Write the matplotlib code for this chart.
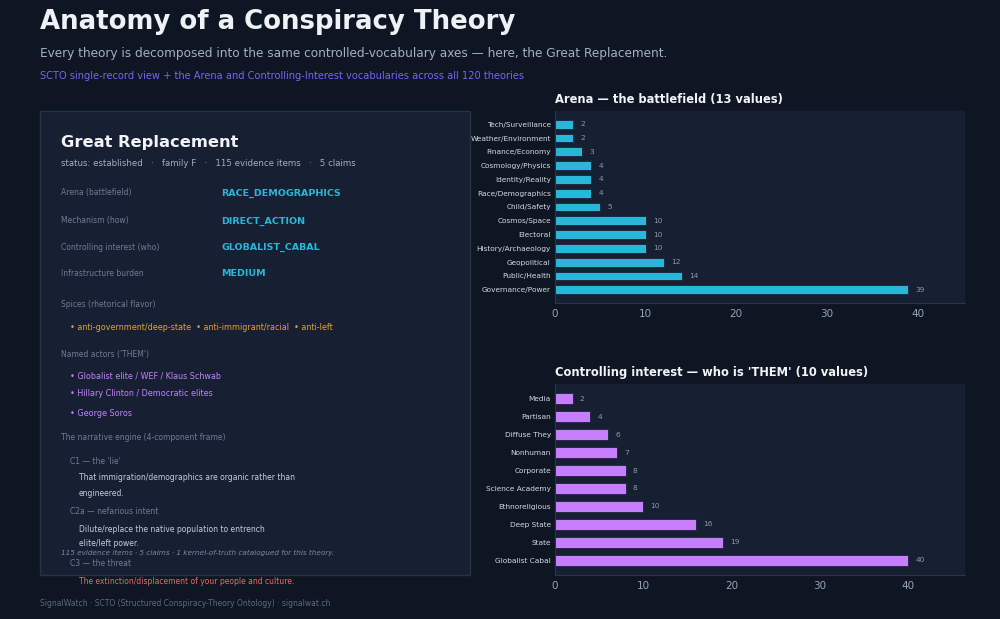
import matplotlib
matplotlib.use('Agg')
import matplotlib.pyplot as plt
from matplotlib.patches import Rectangle

# ---- data ----
arena_labels = ['Governance/Power', 'Public/Health', 'Geopolitical', 'History/Archaeology',
                'Electoral', 'Cosmos/Space', 'Child/Safety', 'Race/Demographics',
                'Identity/Reality', 'Cosmology/Physics', 'Finance/Economy',
                'Weather/Environment', 'Tech/Surveillance']
arena_counts = [39, 14, 12, 10, 10, 10, 5, 4, 4, 4, 3, 2, 2]

interest_labels = ['Globalist Cabal', 'State', 'Deep State', 'Ethnoreligious',
                   'Science Academy', 'Corporate', 'Nonhuman', 'Diffuse They',
                   'Partisan', 'Media']
interest_counts = [40, 19, 16, 10, 8, 8, 7, 6, 4, 2]

record_fields = ['Arena (battlefield)', 'Mechanism (how)', 'Controlling interest (who)',
                 'Infrastructure burden']
record_values = ['RACE_DEMOGRAPHICS', 'DIRECT_ACTION', 'GLOBALIST_CABAL', 'MEDIUM']
spices = ['anti-government/deep-state', 'anti-immigrant/racial', 'anti-left']
actors = ['Globalist elite / WEF / Klaus Schwab', 'Hillary Clinton / Democratic elites',
          'George Soros']

BG = '#0f1623'
PANEL = '#172033'
EDGE = '#263245'
CYAN = '#29b6d9'
VIOLET = '#c77dff'
MUTED = '#6f7c92'

W, H = 1000, 619
fig = plt.figure(figsize=(10, 6.19), dpi=100, facecolor=BG)


def px(x, y):
    return x / W, 1 - y / H


def txt(x, y, s, **kw):
    kw.setdefault('va', 'center')
    kw.setdefault('ha', 'left')
    fig.text(*px(x, y), s, **kw)


# header
txt(40, 22, 'Anatomy of a Conspiracy Theory', fontsize=18.7, fontweight='bold', color='#eef2f7')
txt(40, 54, 'Every theory is decomposed into the same controlled-vocabulary axes \u2014 here, the Great Replacement.',
    fontsize=8.7, color='#a3afc2')
txt(40, 76, 'SCTO single-record view + the Arena and Controlling-Interest vocabularies across all 120 theories',
    fontsize=7.1, color='#7467f0')

# left panel: single record card
fig.patches.append(Rectangle(px(40, 575), 430 / W, 464 / H, transform=fig.transFigure,
                             facecolor=PANEL, edgecolor=EDGE, linewidth=1, zorder=0))

txt(61, 142, 'Great Replacement', fontsize=11.7, fontweight='bold', color='#f1f5f9')
txt(61, 163, 'status: established   \u00b7   family F   \u00b7   115 evidence items   \u00b7   5 claims',
    fontsize=6.2, color='#a3afc2')

for y, f, v in zip([193, 221, 247, 274], record_fields, record_values):
    txt(61, y, f, fontsize=5.5, color=MUTED)
    txt(221, y, v, fontsize=6.8, fontweight='bold', color=CYAN)

txt(61, 305, 'Spices (rhetorical flavor)', fontsize=5.5, color=MUTED)
txt(70, 327, '  '.join('\u2022 ' + s for s in spices), fontsize=5.8, color='#e3a03a')

txt(61, 354, "Named actors ('THEM')", fontsize=5.5, color=MUTED)
for y, a in zip([376, 394, 413], actors):
    txt(70, y, '\u2022 ' + a, fontsize=5.8, color='#c084fc')

txt(61, 438, 'The narrative engine (4-component frame)', fontsize=5.5, color=MUTED)
txt(70, 461, "C1 \u2014 the 'lie'", fontsize=5.5, color=MUTED)
txt(79, 478, 'That immigration/demographics are organic rather than', fontsize=5.5, color='#c5cedb')
txt(79, 493, 'engineered.', fontsize=5.5, color='#c5cedb')
txt(70, 512, 'C2a \u2014 nefarious intent', fontsize=5.5, color=MUTED)
txt(79, 529, 'Dilute/replace the native population to entrench', fontsize=5.5, color='#c5cedb')
txt(79, 544, 'elite/left power.', fontsize=5.5, color='#c5cedb')
txt(61, 553, '115 evidence items \u00b7 5 claims \u00b7 1 kernel-of-truth catalogued for this theory.',
    fontsize=5.2, style='italic', color='#7c899e')
txt(70, 564, 'C3 \u2014 the threat', fontsize=5.5, color=MUTED)
txt(79, 581, 'The extinction/displacement of your people and culture.', fontsize=5.5, color='#f06565')

txt(40, 603, 'SignalWatch \u00b7 SCTO (Structured Conspiracy-Theory Ontology) \u00b7 signalwat.ch',
    fontsize=5.5, color='#5d6a7e')


def bar_panel(rect, labels, counts, color, title):
    ax = fig.add_axes(rect)
    ax.set_facecolor(PANEL)
    ypos = range(len(labels))
    ax.barh(ypos, counts, height=0.65, color=color, edgecolor='#1b2436', linewidth=0.6)
    for y, c in zip(ypos, counts):
        ax.text(c + 0.8, y, str(c), va='center', ha='left', fontsize=5.3, color='#8d99ad')
    ax.set_yticks(list(ypos))
    ax.set_yticklabels(labels, fontsize=5.3, color='#d3d9e3')
    ax.set_xlim(0, max(counts) * 1.16)
    ax.set_xticks([0, 10, 20, 30, 40])
    ax.tick_params(axis='x', colors='#97a3b6', labelsize=7.5, length=0, pad=4)
    ax.tick_params(axis='y', length=0, pad=3)
    for s in ['top', 'right']:
        ax.spines[s].set_visible(False)
    for s in ['left', 'bottom']:
        ax.spines[s].set_color('#2a3548')
    ax.set_title(title, loc='left', fontsize=8.3, fontweight='bold', color='#f1f5f9', pad=6)
    return ax


bar_panel([0.555, 1 - 303 / H, 0.41, 192 / H], arena_labels, arena_counts, CYAN,
          'Arena \u2014 the battlefield (13 values)')
bar_panel([0.555, 1 - 575 / H, 0.41, 191 / H], interest_labels, interest_counts, VIOLET,
          "Controlling interest \u2014 who is 'THEM' (10 values)")

fig.savefig('out.png', dpi=100, facecolor=BG)
